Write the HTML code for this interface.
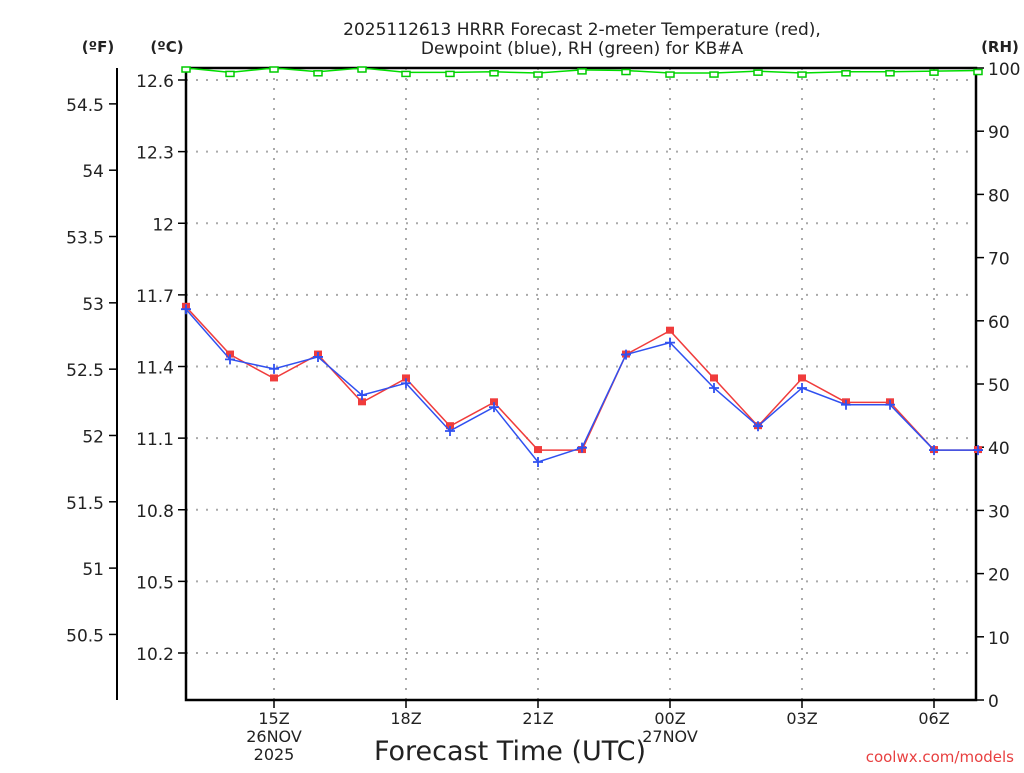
<!DOCTYPE html>
<html><head><meta charset="utf-8"><style>
body{margin:0;background:#fff;width:1024px;height:768px;overflow:hidden}
svg text{font-family:"DejaVu Sans","Liberation Sans",sans-serif;fill:#222}
</style></head><body>
<svg id="chart" width="1024" height="768" viewBox="0 0 1024 768" xmlns="http://www.w3.org/2000/svg"></svg>
<script>
const hours = [13,14,15,16,17,18,19,20,21,22,23,24,25,26,27,28,29,30,31];
const tempC = [11.65,11.45,11.35,11.45,11.25,11.35,11.15,11.25,11.05,11.05,11.45,11.55,11.35,11.15,11.35,11.25,11.25,11.05,11.05];
const dewC = [11.64,11.43,11.39,11.44,11.28,11.33,11.13,11.23,11.00,11.06,11.45,11.50,11.31,11.15,11.31,11.24,11.24,11.05,11.05];
const rh = [100,99.3,100,99.4,100,99.3,99.3,99.4,99.2,99.7,99.6,99.2,99.2,99.5,99.2,99.4,99.4,99.5,99.6];
const cTicks = [12.6,12.3,12.0,11.7,11.4,11.1,10.8,10.5,10.2];
const cLabels = ["12.6","12.3","12","11.7","11.4","11.1","10.8","10.5","10.2"];
const fTicks = [54.5,54,53.5,53,52.5,52,51.5,51,50.5];
const rhTicks = [0,10,20,30,40,50,60,70,80,90,100];
const xTicks = [15,18,21,24,27,30];
const xLabels = ["15Z","18Z","21Z","00Z","03Z","06Z"];

const L=186,R=976,T=68,B=700;
const xs = h => L + (h-13)*44;
const yc = c => 80 + (12.6-c)*238.75;
const yf = f => yc((f-32)/1.8);
const yr = r => B - r*(B-T)/100;
const svg=document.getElementById('chart');
const NS='http://www.w3.org/2000/svg';
function mk(tag,attrs,parent){const e=document.createElementNS(NS,tag);for(const k in attrs)e.setAttribute(k,attrs[k]);(parent||svg).appendChild(e);return e;}
function txt(x,y,s,size,anchor,name){const t=mk('text',{x:x,y:y,'font-size':size,'text-anchor':anchor||'middle'});t.textContent=s;


return t;}

txt(582,35,"2025112613 HRRR Forecast 2-meter Temperature (red),",17,'middle','chart-title');
txt(582,54,"Dewpoint (blue), RH (green) for KB#A",17,'middle','chart-subtitle');
txt(98,52,"(ºF)",15,'middle','f-axis-unit').setAttribute('font-weight','bold');
txt(167,52,"(ºC)",15,'middle','c-axis-unit').setAttribute('font-weight','bold');
txt(1000,52,"(RH)",15,'middle','rh-axis-unit').setAttribute('font-weight','bold');

cTicks.forEach((c,i)=>{
 const g=mk('line',{x1:L,x2:R,y1:yc(c),y2:yc(c),stroke:'#aaa','stroke-width':2,'stroke-dasharray':'2,8'});
 
 
 mk('line',{x1:L-8,x2:L,y1:yc(c),y2:yc(c),stroke:'#000','stroke-width':1.5});
 txt(L-12,yc(c)+7,cLabels[i],17,'end','c-tick-label');
});
xTicks.forEach((h,i)=>{
 const g=mk('line',{x1:xs(h),x2:xs(h),y1:T,y2:B,stroke:'#aaa','stroke-width':2,'stroke-dasharray':'2,8'});
 
 
 mk('line',{x1:xs(h),x2:xs(h),y1:B,y2:B+8,stroke:'#000','stroke-width':1.5});
 txt(xs(h),B+24,xLabels[i],16,'middle','x-tick-label');
});
txt(xs(15),B+42,"26NOV",16,'middle','date-label');
txt(xs(15),B+60,"2025",16,'middle','year-label');
txt(xs(24),B+42,"27NOV",16,'middle','date-label');
txt(510,760,"Forecast Time (UTC)",27,'middle','x-axis-title');
const cw=txt(1014,762,"coolwx.com/models",15,'end','watermark');cw.style.fill='#e84040';

mk('line',{x1:117,x2:117,y1:T,y2:B,stroke:'#000','stroke-width':2});
fTicks.forEach(f=>{
 mk('line',{x1:109,x2:117,y1:yf(f),y2:yf(f),stroke:'#000','stroke-width':1.5});
 txt(104,yf(f)+7,String(f),17,'end','f-tick-label');
});
rhTicks.forEach(r=>{
 mk('line',{x1:R,x2:R+8,y1:yr(r),y2:yr(r),stroke:'#000','stroke-width':1.5});
 txt(988,yr(r)+7,String(r),17,'start','rh-tick-label');
});

const fr=mk('rect',{x:L,y:T,width:R-L,height:B-T,fill:'none',stroke:'#000','stroke-width':2.5});



function series(vals,yfun,color,name){
 const p=mk('polyline',{points:vals.map((v,i)=>xs(hours[i])+','+yfun(v)).join(' '),fill:'none',stroke:color,'stroke-width':1.5});
 
 
}
series(rh,yr,'#00dd00','rh-line');
rh.forEach((v,i)=>{
 const m=mk('rect',{x:xs(hours[i])-4,y:yr(v)-1,width:8,height:5,fill:'#fff',stroke:'#00cc00','stroke-width':1.5});
 
 
});
series(tempC,yc,'#f03c3c','temperature-line');
tempC.forEach((v,i)=>{
 const m=mk('rect',{x:xs(hours[i])-4,y:yc(v)-4,width:8,height:7,fill:'#f03c3c'});
 
 
});
series(dewC,yc,'#3050f0','dewpoint-line');
dewC.forEach((v,i)=>{
 const x=xs(hours[i]),y=yc(v);
 const m=mk('path',{d:`M${x-5},${y}H${x+5}M${x},${y-5}V${y+5}`,stroke:'#3050f0','stroke-width':1.8});
 
 
});
</script>
</body></html>
